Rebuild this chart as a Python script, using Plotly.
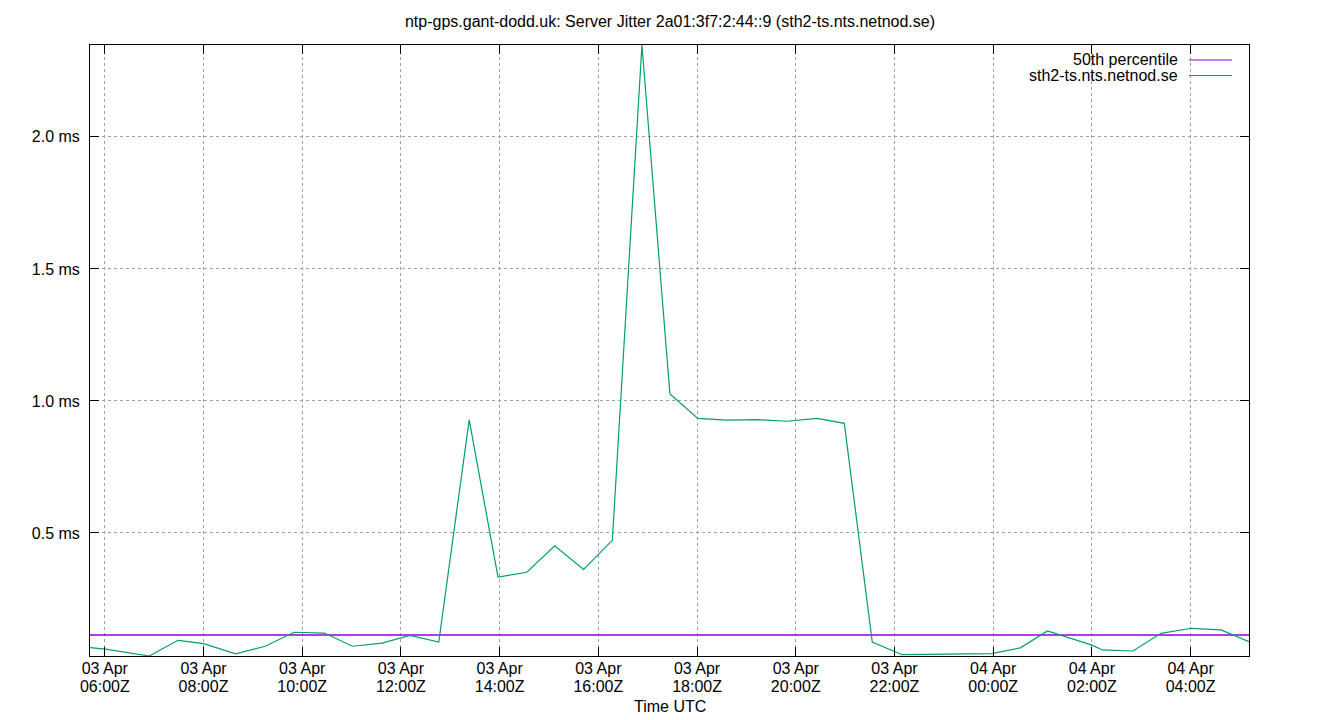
import plotly.graph_objects as go
from datetime import datetime, timedelta

# sample times (UTC) and server jitter (ms)
times = [
    "2025-04-03 05:42", "2025-04-03 06:01", "2025-04-03 06:54", "2025-04-03 07:29",
    "2025-04-03 08:00", "2025-04-03 08:39", "2025-04-03 09:15", "2025-04-03 09:50",
    "2025-04-03 10:27", "2025-04-03 11:01", "2025-04-03 11:37", "2025-04-03 12:11",
    "2025-04-03 12:46", "2025-04-03 13:23", "2025-04-03 13:58", "2025-04-03 14:33",
    "2025-04-03 15:07", "2025-04-03 15:42", "2025-04-03 16:17", "2025-04-03 16:53",
    "2025-04-03 17:27", "2025-04-03 18:01", "2025-04-03 18:36", "2025-04-03 19:13",
    "2025-04-03 19:49", "2025-04-03 20:26", "2025-04-03 20:59", "2025-04-03 21:33",
    "2025-04-03 22:09", "2025-04-03 22:43", "2025-04-03 23:20", "2025-04-03 23:58",
    "2025-04-04 00:33", "2025-04-04 01:06", "2025-04-04 02:00", "2025-04-04 02:13",
    "2025-04-04 02:50", "2025-04-04 03:24", "2025-04-04 04:01", "2025-04-04 04:37",
    "2025-04-04 05:11",
]
jitter_ms = [
    0.066, 0.060, 0.034, 0.0935, 0.081, 0.042, 0.071, 0.124,
    0.121, 0.071, 0.083, 0.112, 0.087, 0.928, 0.333, 0.351,
    0.451, 0.362, 0.472, 2.348, 1.026, 0.934, 0.927, 0.929,
    0.923, 0.934, 0.915, 0.087, 0.039, 0.040, 0.041, 0.043,
    0.065, 0.129, 0.075, 0.057, 0.053, 0.120, 0.139, 0.133,
    0.088,
]
p50_ms = 0.1136

y_ticks = [0.5, 1.0, 1.5, 2.0]
y_tick_labels = ["0.5 ms", "1.0 ms", "1.5 ms", "2.0 ms"]

series_name = "sth2-ts.nts.netnod.se"
pct_name = "50th percentile"
title = "ntp-gps.gant-dodd.uk: Server Jitter 2a01:3f7:2:44::9 (sth2-ts.nts.netnod.se)"
x_title = "Time UTC"

FONT = "Liberation Sans, Arial, sans-serif"
GREEN = "#009e73"
PURPLE = "#9400d3"

W, H = 1340, 720
ML, MR, MT, MB = 90, 91, 45, 64
PW, PH = W - ML - MR, H - MT - MB

t = [datetime.strptime(s, "%Y-%m-%d %H:%M") for s in times]
t0, t1 = t[0], t[-1]

# x ticks every 2 hours
start = datetime(2025, 4, 3, 6, 0)
x_ticks = []
cur = start
while cur <= t1:
    x_ticks.append(cur)
    cur += timedelta(hours=2)
x_date_labels = [d.strftime("%d %b") for d in x_ticks]
x_time_labels = [d.strftime("%H:%MZ") for d in x_ticks]

fig = go.Figure()
# invisible trace on overlay axis carrying the date line of tick labels
fig.add_trace(go.Scatter(
    x=[t0, t1], y=[1.0, 1.0], xaxis="x2", mode="markers",
    marker=dict(size=1, opacity=0), showlegend=False, hoverinfo="skip",
))
fig.add_trace(go.Scatter(
    x=[t0, t1], y=[p50_ms, p50_ms], mode="lines",
    line=dict(color=PURPLE, width=1.3), name=pct_name, showlegend=False,
))
fig.add_trace(go.Scatter(
    x=t, y=jitter_ms, mode="lines",
    line=dict(color=GREEN, width=1.2), name=series_name, showlegend=False,
))

# legend drawn gnuplot-style (text, then sample line on the right)
legend_items = [(pct_name, PURPLE), (series_name, GREEN)]
for i, (name, col) in enumerate(legend_items):
    yy = 1 - (15 + 15.5 * i) / PH
    fig.add_annotation(
        xref="paper", yref="paper", x=(1180 - ML) / PW, y=yy,
        text=name, showarrow=False, xanchor="right", yanchor="middle",
        font=dict(family=FONT, size=16, color="#000000"),
    )
    fig.add_shape(
        type="line", xref="paper", yref="paper",
        x0=(1189 - ML) / PW, x1=(1232 - ML) / PW, y0=yy, y1=yy,
        line=dict(color=col, width=1.2),
    )

# x-axis title
fig.add_annotation(
    xref="paper", yref="paper", x=0.5, y=-(706 - (H - MB)) / PH,
    text=x_title, showarrow=False, xanchor="center", yanchor="middle",
    font=dict(family=FONT, size=16, color="#000000"),
)

fig.update_layout(
    width=W, height=H,
    margin=dict(l=ML, r=MR, t=MT, b=MB),
    plot_bgcolor="white", paper_bgcolor="white",
    font=dict(family=FONT, size=16, color="#000000"),
    title=dict(text=title, x=0.5, xanchor="center", y=1 - 21 / H, yanchor="middle",
               font=dict(family=FONT, size=16)),
    showlegend=False,
    xaxis=dict(
        range=[t0, t1], tickvals=x_ticks, ticktext=x_time_labels,
        ticks="inside", ticklen=9, tickcolor="black", tickwidth=1,
        showline=True, linecolor="black", linewidth=1, mirror="ticks",
        showgrid=True, gridcolor="#a0a0a0", griddash="dot", gridwidth=1,
        zeroline=False, automargin=False, ticklabelstandoff=16,
        tickfont=dict(size=16),
    ),
    xaxis2=dict(
        range=[t0, t1], tickvals=x_ticks, ticktext=x_date_labels,
        overlaying="x", side="bottom", anchor="y",
        ticks="", showline=False, showgrid=False, zeroline=False,
        automargin=False, ticklabelstandoff=1,
        tickfont=dict(size=16),
    ),
    yaxis=dict(
        range=[min(jitter_ms), max(jitter_ms)], tickvals=y_ticks, ticktext=y_tick_labels,
        ticks="inside", ticklen=9, tickcolor="black", tickwidth=1,
        showline=True, linecolor="black", linewidth=1, mirror="ticks",
        showgrid=True, gridcolor="#a0a0a0", griddash="dot", gridwidth=1,
        zeroline=False, automargin=False, ticklabelstandoff=6,
        tickfont=dict(size=16),
    ),
)

fig.write_html("out.html", config={"displayModeBar": False},
               post_script="document.body.style.margin='0px';")
